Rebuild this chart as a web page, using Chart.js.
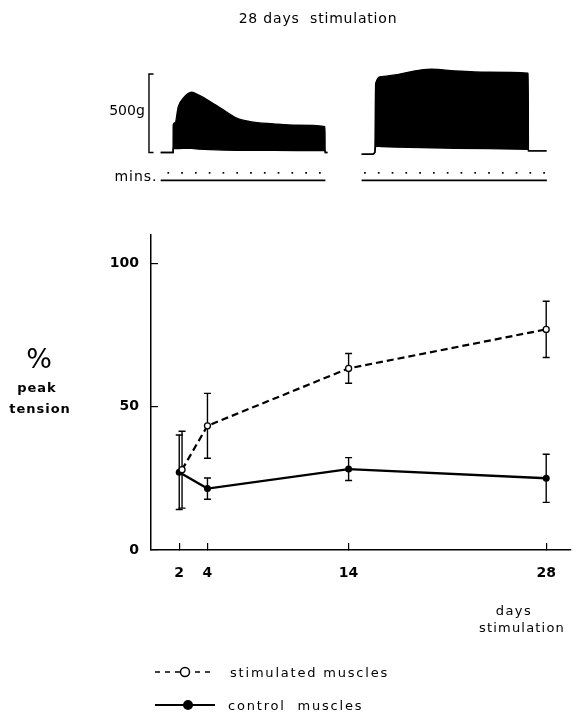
<!DOCTYPE html>
<html>
<head>
<meta charset="utf-8">
<script src="https://cdn.jsdelivr.net/npm/chart.js@4.4.1/dist/chart.umd.min.js"></script>
<style>
  html, body { margin: 0; padding: 0; background: #fff; }
  #page { position: relative; width: 578px; height: 715px; overflow: hidden; font-family: "DejaVu Sans", sans-serif; color: #000; }
  #page canvas { position: absolute; left: 0; }
  .lbl { position: absolute; white-space: pre; line-height: 1; transform: translate(-50%, -50%); }
  .left { transform: translate(0, -50%); }
</style>
</head>
<body>
<div id="page">
  <canvas id="traceChart" width="578" height="200" style="top:0"></canvas>
  <canvas id="tensionChart" width="578" height="515" style="top:200px"></canvas>

  <div class="lbl" style="left:318px;top:18px;font-size:14px;letter-spacing:0.8px">28 days  stimulation</div>
  <div class="lbl" style="left:127px;top:110px;font-size:14px">500g</div>
  <div class="lbl" style="left:136px;top:176px;font-size:14px;letter-spacing:1px">mins.</div>

  <div class="lbl" style="left:39px;top:358px;font-size:27px">%</div>
  <div class="lbl" style="left:37px;top:387px;font-size:13px;font-weight:bold;letter-spacing:1px">peak</div>
  <div class="lbl" style="left:40px;top:408px;font-size:13px;font-weight:bold;letter-spacing:1px">tension</div>

  <div class="lbl" style="left:514px;top:610px;font-size:13px;letter-spacing:1.5px">days</div>
  <div class="lbl" style="left:522px;top:627px;font-size:13px;letter-spacing:1.2px">stimulation</div>

  <svg style="position:absolute;left:150px;top:662px" width="75" height="20">
    <line x1="5" y1="10" x2="65" y2="10" stroke="#000" stroke-width="1.5" stroke-dasharray="5,5"/>
    <circle cx="35" cy="10" r="4.5" fill="#fff" stroke="#000" stroke-width="1.5"/>
  </svg>
  <div class="lbl left" style="left:230px;top:672px;font-size:13px;letter-spacing:1.8px">stimulated muscles</div>

  <svg style="position:absolute;left:150px;top:695px" width="75" height="20">
    <line x1="5" y1="10" x2="65" y2="10" stroke="#000" stroke-width="2"/>
    <circle cx="38" cy="10" r="5" fill="#000"/>
  </svg>
  <div class="lbl left" style="left:228px;top:705px;font-size:13px;letter-spacing:1.8px">control  muscles</div>
</div>
<script>
// force recordings: minutes from first timer dot, tension in g
const traceAMin    = [-0.55, 0.35, 0.36, 0.5, 0.73, 1.09, 1.7, 2.18, 3.03, 3.99, 4.96, 5.93, 7.62, 9.32, 11.37, 11.38, 11.55];
const traceATop    = [0, 0, 175, 190, 292, 345, 383, 366, 324, 271, 218, 196, 182, 173, 164, 0, 0];
const traceABottom = [0, 0, 25, 25, 25, 26, 27, 22, 18, 15, 14, 13, 13, 12, 12, 0, 0];

const traceBMin    = [-0.24, 0.55, 0.72, 0.78, 1.21, 2.18, 4.11, 4.84, 6.53, 8.95, 11.85, 11.86, 13.18];
const traceBTop    = [-12, -12, 0, 441, 483, 494, 526, 530, 519, 511, 505, 10, 10];
const traceBBottom = [-12, -12, 0, 41, 38, 35, 31, 30, 27, 24, 20, 10, 10];

const traceAMarks = [0, 1, 2, 3, 4, 5, 6, 7, 8, 9, 10, 11];
const traceBMarks = [0, 1, 2, 3, 4, 5, 6, 7, 8, 9, 10, 11, 12, 13];
const scaleBarGrams = [0, 500];

// % peak tension against days of stimulation
const days = [2, 4, 14, 28];
const stimulatedDays = [2.2, 4, 14, 28];
const stimulatedMean = [28, 43.3, 63.3, 76.9];
const stimulatedErr = [13.4, 11.3, 5.2, 9.8];
const controlMean = [27.1, 21.4, 28.2, 25];
const controlErr = [13, 3.7, 4, 8.4];
const dayTicks = [2, 4, 14, 28];
const tensionTicks = [0, 50, 100];

const traceBShift = 14.27;
const markY = -130;
const timerY = -178;

function pts(xs, ys, shift){
    return xs.map((x, i) => ({x: x + shift, y: ys[i]}));
}

function errorBars(xs, means, errs){
    const out = [];
    xs.forEach((x, i) => {
        out.push({x: x, y: means[i] - errs[i]});
        out.push({x: x, y: means[i] + errs[i]});
        out.push({x: x, y: null});
    });
    return out;
}

const black = "#000";
const traceLine = {borderColor: black, borderWidth: 1.4, pointRadius: 0, fill: false};

new Chart(document.getElementById("traceChart"), {
    type: "line",
    data: {
        datasets: [
            {...traceLine, data: pts(traceAMin, traceATop, 0), fill: "+1", backgroundColor: black, cubicInterpolationMode: "monotone"},
            {...traceLine, data: pts(traceAMin, traceABottom, 0)},
            {...traceLine, data: pts(traceBMin, traceBTop, traceBShift), fill: "+1", backgroundColor: black, cubicInterpolationMode: "monotone"},
            {...traceLine, data: pts(traceBMin, traceBBottom, traceBShift)},
            {
                data: traceAMarks.map(m => ({x: m, y: markY})).concat(traceBMarks.map(m => ({x: m + traceBShift, y: markY}))),
                showLine: false, pointRadius: 1.2, pointStyle: "rect",
                pointBackgroundColor: black, pointBorderColor: black, pointBorderWidth: 0
            },
            {...traceLine, borderWidth: 1.6, data: [{x: -0.55, y: timerY}, {x: 11.4, y: timerY}]},
            {...traceLine, borderWidth: 1.6, data: [{x: traceBShift - 0.24, y: timerY}, {x: traceBShift + 13.2, y: timerY}]},
            {...traceLine, data: [
                {x: -1.07, y: scaleBarGrams[1]}, {x: -1.4, y: scaleBarGrams[1]},
                {x: -1.4, y: scaleBarGrams[0]}, {x: -1.07, y: scaleBarGrams[0]}
            ]}
        ]
    },
    options: {
        responsive: false,
        animation: false,
        layout: {autoPadding: false, padding: 0},
        plugins: {legend: {display: false}, tooltip: {enabled: false}},
        scales: {
            x: {type: "linear", min: -12.21, max: 29.73, display: false},
            y: {type: "linear", min: -303, max: 971, display: false}
        }
    }
});

const tickFont = {family: "DejaVu Sans", size: 14, weight: "bold"};

new Chart(document.getElementById("tensionChart"), {
    type: "line",
    data: {
        datasets: [
            {
                label: "stimulated muscles",
                data: pts(stimulatedDays, stimulatedMean, 0),
                borderColor: black, borderWidth: 2.2, borderDash: [7, 4],
                pointRadius: 3, pointBorderWidth: 1.3,
                pointBackgroundColor: "#fff", pointBorderColor: black
            },
            {
                label: "control muscles",
                data: pts(days, controlMean, 0),
                borderColor: black, borderWidth: 2.4,
                pointRadius: 3.5, pointBorderWidth: 0,
                pointBackgroundColor: black
            },
            {
                data: errorBars(stimulatedDays, stimulatedMean, stimulatedErr),
                borderColor: black, borderWidth: 1.4, spanGaps: false,
                pointStyle: "line", pointRadius: 3.5, pointBorderWidth: 1.4, pointBorderColor: black
            },
            {
                data: errorBars(days, controlMean, controlErr),
                borderColor: black, borderWidth: 1.4, spanGaps: false,
                pointStyle: "line", pointRadius: 3.5, pointBorderWidth: 1.4, pointBorderColor: black
            }
        ]
    },
    options: {
        responsive: false,
        animation: false,
        layout: {autoPadding: false, padding: {top: 35, right: 1, bottom: 125, left: 0}},
        plugins: {legend: {display: false}, tooltip: {enabled: false}},
        scales: {
            x: {
                type: "linear", min: 0, max: 29.73,
                afterBuildTicks: s => { s.ticks = dayTicks.map(v => ({value: v})); },
                afterFit: s => { s.height = 40; },
                border: {color: black, width: 1.5},
                grid: {drawOnChartArea: false, tickLength: -7, color: black, lineWidth: 1.2},
                ticks: {color: black, padding: 22, font: tickFont}
            },
            y: {
                type: "linear", min: 0, max: 109.8,
                afterBuildTicks: s => { s.ticks = tensionTicks.map(v => ({value: v})); },
                afterFit: s => { s.width = 151; },
                border: {color: black, width: 1.5},
                grid: {drawOnChartArea: false, tickLength: -7, color: black, lineWidth: 1.2},
                ticks: {color: black, padding: 19, font: tickFont}
            }
        }
    }
});
</script>
</body>
</html>
